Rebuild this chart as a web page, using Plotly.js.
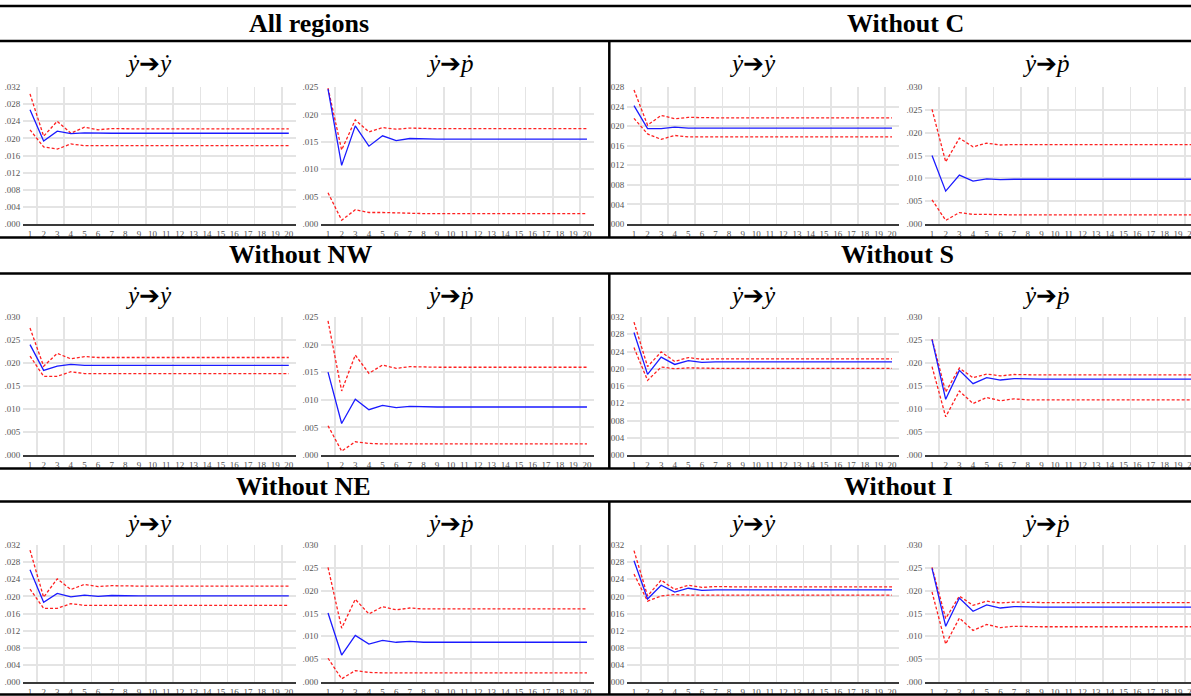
<!DOCTYPE html>
<html><head><meta charset="utf-8">
<script src="https://cdn.plot.ly/plotly-3.0.1.min.js"></script>
<style>html,body{margin:0;padding:0;overflow:hidden;background:#fff}#chart{width:1200px;height:696px}</style>
</head><body><div id="chart"></div>
<script>
// ---------- data ----------
const horizons = [1,2,3,4,5,6,7,8,9,10,11,12,13,14,15,16,17,18,19,20];
const groupTitles = ["All regions","Without C","Without NW","Without S","Without NE","Without I"];
const responseTitles = ["<i>ẏ</i>➔<i>ẏ</i>","<i>ẏ</i>➔<i>ṗ</i>"];

const yTicks004 = [0,0.004,0.008,0.012,0.016,0.020,0.024,0.028,0.032];
const yTickText004 = [".000",".004",".008",".012",".016",".020",".024",".028",".032"];
const yTicks005 = [0,0.005,0.010,0.015,0.020,0.025,0.030];
const yTickText005 = [".000",".005",".010",".015",".020",".025",".030"];

// All regions
const allYY_mid = [0.0267,0.0194,0.0217,0.0211,0.0213,0.0212,0.0212,0.0212,0.0212,0.0212,0.0212,0.0212,0.0212,0.0212,0.0212,0.0212,0.0212,0.0212,0.0212,0.0212];
const allYY_hi  = [0.0304,0.0205,0.0240,0.0212,0.0226,0.0220,0.0223,0.0222,0.0222,0.0222,0.0222,0.0222,0.0222,0.0222,0.0222,0.0222,0.0222,0.0222,0.0222,0.0222];
const allYY_lo  = [0.0220,0.0180,0.0175,0.0187,0.0183,0.0183,0.0183,0.0183,0.0183,0.0183,0.0183,0.0183,0.0183,0.0183,0.0183,0.0183,0.0183,0.0183,0.0183,0.0183];
const allYP_mid = [0.0246,0.0107,0.0179,0.0142,0.0161,0.0152,0.0156,0.0155,0.0155,0.0155,0.0155,0.0155,0.0155,0.0155,0.0155,0.0155,0.0155,0.0155,0.0155,0.0155];
const allYP_hi  = [0.0248,0.0135,0.0190,0.0168,0.0176,0.0173,0.0175,0.0174,0.0174,0.0174,0.0174,0.0174,0.0174,0.0174,0.0174,0.0174,0.0174,0.0174,0.0174,0.0174];
const allYP_lo  = [0.0057,0.0007,0.0026,0.0021,0.0021,0.0020,0.0020,0.0019,0.0019,0.0019,0.0019,0.0019,0.0019,0.0019,0.0019,0.0019,0.0019,0.0019,0.0019,0.0019];
// Without C
const noC_YY_mid = [0.0242,0.0195,0.0195,0.0198,0.0196,0.0196,0.0196,0.0196,0.0196,0.0196,0.0196,0.0196,0.0196,0.0196,0.0196,0.0196,0.0196,0.0196,0.0196,0.0196];
const noC_YY_hi  = [0.0274,0.0202,0.0222,0.0215,0.0218,0.0217,0.0217,0.0217,0.0217,0.0217,0.0217,0.0217,0.0217,0.0217,0.0217,0.0217,0.0217,0.0217,0.0217,0.0217];
const noC_YY_lo  = [0.0216,0.0184,0.0173,0.0181,0.0178,0.0178,0.0178,0.0178,0.0178,0.0178,0.0178,0.0178,0.0178,0.0178,0.0178,0.0178,0.0178,0.0178,0.0178,0.0178];
const noC_YP_mid = [0.0150,0.0072,0.0107,0.0094,0.0099,0.0097,0.0098,0.0098,0.0098,0.0098,0.0098,0.0098,0.0098,0.0098,0.0098,0.0098,0.0098,0.0098,0.0098,0.0098];
const noC_YP_hi  = [0.0251,0.0136,0.0188,0.0169,0.0177,0.0173,0.0174,0.0174,0.0174,0.0174,0.0174,0.0174,0.0174,0.0174,0.0174,0.0174,0.0174,0.0174,0.0174,0.0174];
const noC_YP_lo  = [0.0053,0.0008,0.0025,0.0021,0.0021,0.0020,0.0020,0.0020,0.0020,0.0020,0.0020,0.0020,0.0020,0.0020,0.0020,0.0020,0.0020,0.0020,0.0020,0.0020];
// Without NW
const noNW_YY_mid = [0.0240,0.0184,0.0193,0.0197,0.0195,0.0195,0.0195,0.0195,0.0195,0.0195,0.0195,0.0195,0.0195,0.0195,0.0195,0.0195,0.0195,0.0195,0.0195,0.0195];
const noNW_YY_hi  = [0.0276,0.0193,0.0221,0.0209,0.0214,0.0212,0.0212,0.0212,0.0212,0.0212,0.0212,0.0212,0.0212,0.0212,0.0212,0.0212,0.0212,0.0212,0.0212,0.0212];
const noNW_YY_lo  = [0.0215,0.0171,0.0171,0.0181,0.0177,0.0177,0.0177,0.0177,0.0177,0.0177,0.0177,0.0177,0.0177,0.0177,0.0177,0.0177,0.0177,0.0177,0.0177,0.0177];
const noNW_YP_mid = [0.0150,0.0057,0.0101,0.0082,0.0090,0.0086,0.0088,0.0087,0.0087,0.0087,0.0087,0.0087,0.0087,0.0087,0.0087,0.0087,0.0087,0.0087,0.0087,0.0087];
const noNW_YP_hi  = [0.0243,0.0116,0.0181,0.0148,0.0163,0.0157,0.0160,0.0159,0.0159,0.0159,0.0159,0.0159,0.0159,0.0159,0.0159,0.0159,0.0159,0.0159,0.0159,0.0159];
const noNW_YP_lo  = [0.0053,0.0007,0.0024,0.0021,0.0020,0.0020,0.0020,0.0020,0.0020,0.0020,0.0020,0.0020,0.0020,0.0020,0.0020,0.0020,0.0020,0.0020,0.0020,0.0020];
// Without S
const noS_YY_mid = [0.0284,0.0187,0.0227,0.0210,0.0219,0.0215,0.0216,0.0216,0.0216,0.0216,0.0216,0.0216,0.0216,0.0216,0.0216,0.0216,0.0216,0.0216,0.0216,0.0216];
const noS_YY_hi  = [0.0308,0.0205,0.0239,0.0217,0.0226,0.0222,0.0223,0.0223,0.0223,0.0223,0.0223,0.0223,0.0223,0.0223,0.0223,0.0223,0.0223,0.0223,0.0223,0.0223];
const noS_YY_lo  = [0.0249,0.0173,0.0204,0.0200,0.0202,0.0201,0.0201,0.0201,0.0201,0.0201,0.0201,0.0201,0.0201,0.0201,0.0201,0.0201,0.0201,0.0201,0.0201,0.0201];
const noS_YP_mid = [0.0251,0.0121,0.0184,0.0155,0.0168,0.0163,0.0166,0.0165,0.0165,0.0165,0.0165,0.0165,0.0165,0.0165,0.0165,0.0165,0.0165,0.0165,0.0165,0.0165];
const noS_YP_hi  = [0.0252,0.0137,0.0189,0.0168,0.0176,0.0172,0.0175,0.0174,0.0174,0.0174,0.0174,0.0174,0.0174,0.0174,0.0174,0.0174,0.0174,0.0174,0.0174,0.0174];
const noS_YP_lo  = [0.0192,0.0083,0.0139,0.0112,0.0125,0.0118,0.0122,0.0120,0.0120,0.0120,0.0120,0.0120,0.0120,0.0120,0.0120,0.0120,0.0120,0.0120,0.0120,0.0120];
// Without NE
const noNE_YY_mid = [0.0262,0.0186,0.0207,0.0199,0.0203,0.0200,0.0202,0.0201,0.0201,0.0201,0.0201,0.0201,0.0201,0.0201,0.0201,0.0201,0.0201,0.0201,0.0201,0.0201];
const noNE_YY_hi  = [0.0308,0.0198,0.0241,0.0216,0.0228,0.0223,0.0225,0.0224,0.0224,0.0224,0.0224,0.0224,0.0224,0.0224,0.0224,0.0224,0.0224,0.0224,0.0224,0.0224];
const noNE_YY_lo  = [0.0217,0.0172,0.0172,0.0183,0.0179,0.0179,0.0179,0.0179,0.0179,0.0179,0.0179,0.0179,0.0179,0.0179,0.0179,0.0179,0.0179,0.0179,0.0179,0.0179];
const noNE_YP_mid = [0.0151,0.0059,0.0102,0.0083,0.0091,0.0087,0.0089,0.0087,0.0087,0.0087,0.0087,0.0087,0.0087,0.0087,0.0087,0.0087,0.0087,0.0087,0.0087,0.0087];
const noNE_YP_hi  = [0.0251,0.0118,0.0181,0.0149,0.0165,0.0158,0.0162,0.0160,0.0160,0.0160,0.0160,0.0160,0.0160,0.0160,0.0160,0.0160,0.0160,0.0160,0.0160,0.0160];
const noNE_YP_lo  = [0.0052,0.0007,0.0025,0.0021,0.0020,0.0020,0.0020,0.0020,0.0020,0.0020,0.0020,0.0020,0.0020,0.0020,0.0020,0.0020,0.0020,0.0020,0.0020,0.0020];
// Without I
const noI_YY_mid = [0.0283,0.0194,0.0226,0.0210,0.0219,0.0214,0.0215,0.0215,0.0215,0.0215,0.0215,0.0215,0.0215,0.0215,0.0215,0.0215,0.0215,0.0215,0.0215,0.0215];
const noI_YY_hi  = [0.0307,0.0201,0.0238,0.0216,0.0226,0.0221,0.0223,0.0222,0.0222,0.0222,0.0222,0.0222,0.0222,0.0222,0.0222,0.0222,0.0222,0.0222,0.0222,0.0222];
const noI_YY_lo  = [0.0252,0.0189,0.0201,0.0204,0.0203,0.0203,0.0203,0.0203,0.0203,0.0203,0.0203,0.0203,0.0203,0.0203,0.0203,0.0203,0.0203,0.0203,0.0203,0.0203];
const noI_YP_mid = [0.0249,0.0122,0.0184,0.0155,0.0169,0.0162,0.0165,0.0164,0.0164,0.0164,0.0164,0.0164,0.0164,0.0164,0.0164,0.0164,0.0164,0.0164,0.0164,0.0164];
const noI_YP_hi  = [0.0251,0.0139,0.0188,0.0168,0.0177,0.0173,0.0175,0.0174,0.0174,0.0174,0.0174,0.0174,0.0174,0.0174,0.0174,0.0174,0.0174,0.0174,0.0174,0.0174];
const noI_YP_lo  = [0.0197,0.0083,0.0140,0.0113,0.0126,0.0119,0.0122,0.0121,0.0121,0.0121,0.0121,0.0121,0.0121,0.0121,0.0121,0.0121,0.0121,0.0121,0.0121,0.0121];

// panel order: row by row, left to right
const panels = [
  {mid: allYY_mid, hi: allYY_hi, lo: allYY_lo, ymax: 0.032, tv: yTicks004, tt: yTickText004},
  {mid: allYP_mid, hi: allYP_hi, lo: allYP_lo, ymax: 0.025, tv: yTicks005, tt: yTickText005},
  {mid: noC_YY_mid, hi: noC_YY_hi, lo: noC_YY_lo, ymax: 0.028, tv: yTicks004, tt: yTickText004},
  {mid: noC_YP_mid, hi: noC_YP_hi, lo: noC_YP_lo, ymax: 0.030, tv: yTicks005, tt: yTickText005},
  {mid: noNW_YY_mid, hi: noNW_YY_hi, lo: noNW_YY_lo, ymax: 0.030, tv: yTicks005, tt: yTickText005},
  {mid: noNW_YP_mid, hi: noNW_YP_hi, lo: noNW_YP_lo, ymax: 0.025, tv: yTicks005, tt: yTickText005},
  {mid: noS_YY_mid, hi: noS_YY_hi, lo: noS_YY_lo, ymax: 0.032, tv: yTicks004, tt: yTickText004},
  {mid: noS_YP_mid, hi: noS_YP_hi, lo: noS_YP_lo, ymax: 0.030, tv: yTicks005, tt: yTickText005},
  {mid: noNE_YY_mid, hi: noNE_YY_hi, lo: noNE_YY_lo, ymax: 0.032, tv: yTicks004, tt: yTickText004},
  {mid: noNE_YP_mid, hi: noNE_YP_hi, lo: noNE_YP_lo, ymax: 0.030, tv: yTicks005, tt: yTickText005},
  {mid: noI_YY_mid, hi: noI_YY_hi, lo: noI_YY_lo, ymax: 0.032, tv: yTicks004, tt: yTickText004},
  {mid: noI_YP_mid, hi: noI_YP_hi, lo: noI_YP_lo, ymax: 0.030, tv: yTicks005, tt: yTickText005}
];

// ---------- layout geometry (pixels) ----------
const W = 1200, H = 696;
const colPx = [[23.2,295.6],[321.2,593.8],[627.2,898.8],[925.2,1198.6]];
const rowPx = [[87,224],[317,455],[545,682]];
const fx = p => p / W;
const fy = p => 1 - p / H;

const serif = "'Liberation Serif', 'Times New Roman', serif";
const tickFont = {family: serif, size: 9, color: "#555"};
const gridCol = "#e4e4e4";
const minorGrid = horizons.filter(h => h % 2 === 1 && h < 20).map(h => h + 0.5);

const data = [];
const layout = {
  width: W, height: H,
  margin: {l:0, r:0, t:0, b:0},
  paper_bgcolor: "#fff", plot_bgcolor: "#fff",
  showlegend: false,
  shapes: [], annotations: []
};

panels.forEach((p, i) => {
  const r = Math.floor(i / 4), c = i % 4;
  const n = i + 1;
  const xa = "x" + n, ya = "y" + n;
  const xk = "xaxis" + n, yk = "yaxis" + n;
  const nt = p.tv.filter(v => v <= p.ymax + 1e-9).length;
  layout[xk] = {
    domain: [fx(colPx[c][0]), fx(colPx[c][1])],
    anchor: ya,
    range: [0.5, 20.5],
    tickmode: "array", tickvals: horizons, ticktext: horizons.map(String),
    showgrid: false, zeroline: false,
    showline: true, linecolor: "#3a3a3a", linewidth: 2,
    ticks: "", tickfont: tickFont, ticklabelstandoff: 0,
    minor: {tickmode: "array", tickvals: minorGrid, showgrid: true, gridcolor: gridCol, gridwidth: 1.5, ticks: ""},
    fixedrange: true
  };
  layout[yk] = {
    domain: [fy(rowPx[r][1]), fy(rowPx[r][0])],
    anchor: xa,
    range: [0, p.ymax],
    tickmode: "array", tickvals: p.tv.slice(0, nt), ticktext: p.tt.slice(0, nt),
    showgrid: true, gridcolor: gridCol, gridwidth: 2,
    zeroline: false, showline: false, ticks: "",
    tickfont: tickFont, ticklabelstandoff: 2,
    fixedrange: true
  };
  const dash = {color: "#ff2020", width: 1.3, dash: "3px,2px"};
  data.push({x: horizons, y: p.hi, xaxis: xa, yaxis: ya, mode: "lines", line: dash, hoverinfo: "skip"});
  data.push({x: horizons, y: p.lo, xaxis: xa, yaxis: ya, mode: "lines", line: dash, hoverinfo: "skip"});
  data.push({x: horizons, y: p.mid, xaxis: xa, yaxis: ya, mode: "lines", line: {color: "#1a1aff", width: 1.3}, hoverinfo: "skip"});

  // response subtitle
  const subCx = [148, 450, 753, 1046][c];
  const subCy = [63, 295, 523][r];
  layout.annotations.push({
    text: responseTitles[c % 2], xref: "paper", yref: "paper",
    x: fx(subCx), y: fy(subCy), xanchor: "center", yanchor: "middle",
    showarrow: false, font: {family: serif, size: 25, color: "#000"}
  });
});

// group titles
const titleCx = [309, 905, 300, 897, 303, 898];
const titleCy = [23, 23, 254, 254, 486, 486];
groupTitles.forEach((t, g) => {
  layout.annotations.push({
    text: "<b>" + t + "</b>", xref: "paper", yref: "paper",
    x: fx(titleCx[g]), y: fy(titleCy[g]), xanchor: "center", yanchor: "middle",
    showarrow: false, font: {family: serif, size: 26, color: "#000"}
  });
});

// table rules
const hLines = [6, 41, 237.5, 273.5, 468.5, 501.5, 694.5];
hLines.forEach(yp => layout.shapes.push({
  type: "line", xref: "paper", yref: "paper", x0: 0, x1: 1, y0: fy(yp), y1: fy(yp),
  line: {color: "#000", width: 2.5}, layer: "above"
}));
[[41, 237.5], [273.5, 468.5], [501.5, 694.5]].forEach(seg => layout.shapes.push({
  type: "line", xref: "paper", yref: "paper", x0: fx(609.3), x1: fx(609.3), y0: fy(seg[0]), y1: fy(seg[1]),
  line: {color: "#000", width: 2.5}, layer: "above"
}));

Plotly.newPlot("chart", data, layout, {staticPlot: true, displayModeBar: false});
</script>
</body></html>
